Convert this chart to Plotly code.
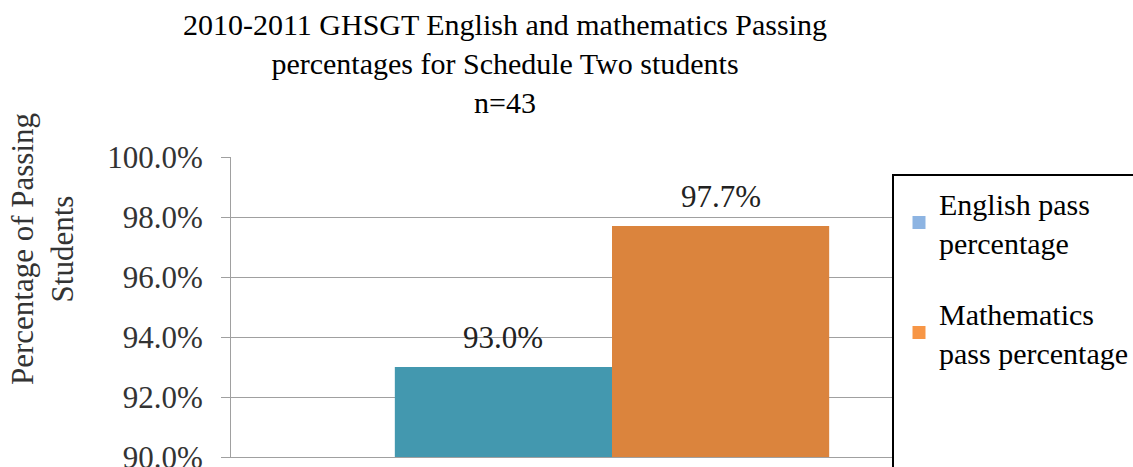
import plotly.graph_objects as go

# ---- data ----
category = ["2010-2011"]
series_names = ["English pass percentage", "Mathematics pass percentage"]
legend_labels = ["English pass<br>percentage", "Mathematics<br>pass percentage"]
english_values = [93.0]
math_values = [97.7]
y_ticks = [90, 92, 94, 96, 98, 100]
y_tick_labels = [f"{v:.1f}%" for v in y_ticks]

W, H = 1133, 467
L, R, T, B = 231, 140, 157, 10
pw, ph = W - L - R, H - T - B
BARGAP = 0.43

def px_x(p):
    return (p - L) / pw

def px_y(p):
    return (H - B - p) / ph

FONT = "Liberation Serif, Times New Roman, serif"
bar_colors = ["#4398AF", "#DB843D"]
legend_colors = ["#8DB4E2", "#F79646"]

fig = go.Figure()
series_values = [english_values, math_values]
for name, vals, col in zip(series_names, series_values, bar_colors):
    fig.add_trace(go.Bar(
        x=category, y=vals, name=name, marker=dict(color=col, line=dict(width=0)),
        showlegend=False,
    ))

# data labels above each bar (bar centre offset derived from group layout)
bar_w_px = pw * (1 - BARGAP) / len(series_values)
annotations = []
for i, vals in enumerate(series_values):
    shift = (i - (len(series_values) - 1) / 2) * bar_w_px
    for c, v in zip(category, vals):
        annotations.append(dict(
            x=c, y=v, xref="x", yref="y", text=f"{v:.1f}%", showarrow=False,
            xshift=shift, yshift=10, yanchor="bottom",
            font=dict(family=FONT, size=31, color="#222"),
        ))

# legend entries (the original legend uses lighter swatch colours)
for lab, col, grp in zip(legend_labels, legend_colors, ["a", "b"]):
    fig.add_trace(go.Scatter(
        x=[None], y=[None], mode="markers", name=lab, legendgroup=grp,
        marker=dict(symbol="square", size=13, color=col),
        showlegend=True,
    ))

annotations.append(dict(
    text="Percentage of Passing<br>Students", textangle=-90,
    xref="paper", yref="paper", x=px_x(42), y=px_y(249),
    xanchor="center", yanchor="middle", showarrow=False,
    font=dict(family=FONT, size=31, color="#333"),
))

fig.update_layout(
    width=W, height=H,
    margin=dict(l=L, r=R, t=T, b=B, pad=0, autoexpand=False),
    paper_bgcolor="white", plot_bgcolor="white",
    barmode="group", bargap=BARGAP, bargroupgap=0,
    font=dict(family=FONT, color="#222"),
    title=dict(
        text="2010-2011 GHSGT English and mathematics Passing<br>percentages for Schedule Two students<br>n=43",
        x=505 / W, xref="container", xanchor="center",
        y=1 - 35 / H, yref="container", yanchor="top",
        font=dict(family=FONT, size=30, color="#000"),
    ),
    xaxis=dict(
        showticklabels=False, ticks="", showgrid=False, automargin=False,
        showline=True, linecolor="#A0A0A0", linewidth=1,
    ),
    yaxis=dict(
        range=[90, 100], tickvals=y_ticks, ticktext=y_tick_labels,
        ticks="outside", ticklen=9, tickcolor="#A0A0A0", ticklabelstandoff=12,
        ticklabeloverflow="allow", automargin=False,
        showline=True, linecolor="#A0A0A0", linewidth=1,
        showgrid=True, gridcolor="#A0A0A0", gridwidth=1,
        tickfont=dict(family=FONT, size=31, color="#333"),
        zeroline=False,
    ),
    showlegend=True,
    legend=dict(
        x=px_x(899), xanchor="left", y=px_y(177), yanchor="top",
        bgcolor="rgba(0,0,0,0)", borderwidth=0,
        font=dict(family=FONT, size=30, color="#000"),
        traceorder="grouped", tracegroupgap=29,
        itemsizing="trace",
    ),
    shapes=[dict(
        type="rect", xref="paper", yref="paper",
        x0=px_x(893), x1=px_x(1145), y0=px_y(475), y1=px_y(175),
        line=dict(color="#000", width=2), fillcolor="white", layer="above",
    )],
    annotations=annotations,
)

fig.write_html(
    "out.html",
    config={"displayModeBar": False},
    post_script="document.body.style.margin='0';document.body.style.overflow='hidden';",
)
